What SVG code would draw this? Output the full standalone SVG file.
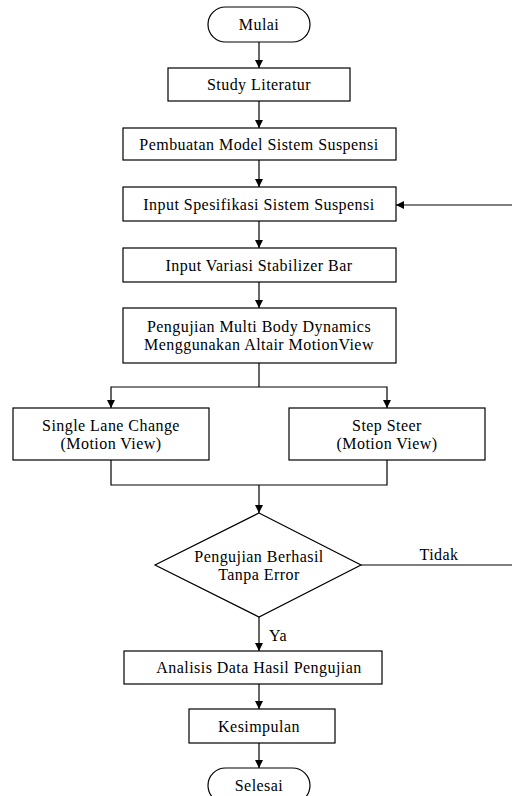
<svg xmlns="http://www.w3.org/2000/svg" width="512" height="796" viewBox="0 0 512 796">
<defs>
<marker id="ah" markerWidth="8" markerHeight="9" refX="8" refY="4.5" orient="auto" markerUnits="userSpaceOnUse">
<path d="M0,0.5 L8,4.5 L0,8.5 Z" fill="#000"/>
</marker>
<style>
.box{fill:#fff;stroke:#000;stroke-width:1.2}
.ln{fill:none;stroke:#000;stroke-width:1.2}
.arr{fill:none;stroke:#000;stroke-width:1.2;marker-end:url(#ah)}
text{font-family:"Liberation Serif","Times New Roman",serif;font-size:16px;letter-spacing:0.45px;fill:#000;text-anchor:middle}
</style>
</defs>
<rect width="512" height="796" fill="#fff"/>
<g id="connectors">
<path class="arr" d="M259,42 V68"/>
<path class="arr" d="M259,101 V128"/>
<path class="arr" d="M259,160 V187"/>
<path class="arr" d="M259,221 V248"/>
<path class="arr" d="M259,282 V308"/>
<path class="ln" d="M259,363 V387"/>
<path class="arr" d="M259,387 H111 V408"/>
<path class="arr" d="M259,387 H387 V408"/>
<path class="ln" d="M111,460 V485 H387 V460"/>
<path class="arr" d="M259,485 V513"/>
<path class="arr" d="M361,565 H516 V205 H396"/>
<path class="arr" d="M259,617 V651"/>
<path class="arr" d="M259,684 V709"/>
<path class="arr" d="M259,743 V768"/>
</g>
<g id="mulai"><rect class="box" x="208" y="7" width="102" height="35" rx="17.5"/><text x="259" y="30">Mulai</text></g>
<g id="study"><rect class="box" x="168" y="68" width="182" height="33"/><text x="259" y="90">Study Literatur</text></g>
<g id="pembuatan"><rect class="box" x="123" y="128" width="273" height="32"/><text x="259" y="149.5">Pembuatan Model Sistem Suspensi</text></g>
<g id="input-spesifikasi"><rect class="box" x="123" y="187" width="273" height="34"/><text x="259" y="209.5">Input Spesifikasi Sistem Suspensi</text></g>
<g id="input-variasi"><rect class="box" x="123" y="248" width="273" height="34"/><text x="259" y="270.5">Input Variasi Stabilizer Bar</text></g>
<g id="pengujian"><rect class="box" x="123" y="308" width="273" height="55"/><text x="259" y="332">Pengujian Multi Body Dynamics</text><text x="259" y="350">Menggunakan Altair MotionView</text></g>
<g id="single-lane"><rect class="box" x="13" y="408" width="196" height="52"/><text x="111" y="430.5">Single Lane Change</text><text x="111" y="448.5">(Motion View)</text></g>
<g id="step-steer"><rect class="box" x="289" y="408" width="196" height="52"/><text x="387" y="430.5">Step Steer</text><text x="387" y="448.5">(Motion View)</text></g>
<g id="keputusan"><path class="box" d="M259,513 L361,565 L259,617 L155,565 Z"/><text x="259" y="561.5">Pengujian Berhasil</text><text x="259" y="579.5">Tanpa Error</text></g>
<g id="label-tidak"><text x="439" y="560">Tidak</text></g>
<g id="label-ya"><text x="278" y="641">Ya</text></g>
<g id="analisis"><rect class="box" x="124" y="651" width="258" height="33"/><text x="259" y="673">Analisis Data Hasil Pengujian</text></g>
<g id="kesimpulan"><rect class="box" x="189" y="709" width="146" height="34"/><text x="259" y="731.5">Kesimpulan</text></g>
<g id="selesai"><rect class="box" x="208" y="768" width="102" height="35" rx="17.5"/><text x="259" y="791">Selesai</text></g>
</svg>
